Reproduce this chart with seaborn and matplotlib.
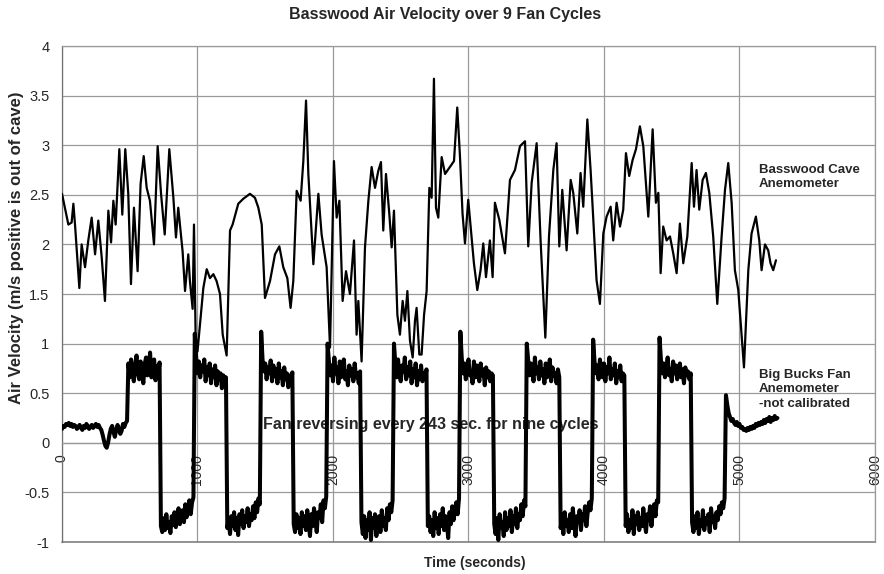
import numpy as np
import pandas as pd
import matplotlib
matplotlib.use("Agg")
import matplotlib.pyplot as plt
import seaborn as sns

# ---------------- data ----------------
title = "Basswood Air Velocity over 9 Fan Cycles"
x_label = "Time (seconds)"
y_label = "Air Velocity (m/s positive is out of cave)"
xtick_values = [0, 1000, 2000, 3000, 4000, 5000, 6000]
xtick_labels = ["0", "1000", "2000", "3000", "4000", "5000", "6000"]
ytick_values = [-1, -0.5, 0, 0.5, 1, 1.5, 2, 2.5, 3, 3.5, 4]
ytick_labels = ["-1", "-0.5", "0", "0.5", "1", "1.5", "2", "2.5", "3", "3.5", "4"]

cave_label = "Basswood Cave\nAnemometer"
fan_label = "Big Bucks Fan\nAnemometer\n-not calibrated"
note_label = "Fan reversing every 243 sec. for nine cycles"

# Basswood Cave anemometer (time s, velocity m/s)
cave_time = [0, 47, 71, 84, 96, 128, 145, 170, 194, 219,
             244, 268, 293, 317, 342, 362, 379, 396, 423, 445,
             467, 489, 509, 531, 558, 580, 603, 625, 649, 679,
             706, 731, 758, 792, 822, 841, 858, 890, 908, 932,
             944, 964, 974, 986, 1000, 1043, 1068, 1092, 1117, 1141,
             1166, 1186, 1215, 1240, 1259, 1301, 1338, 1387, 1424, 1449,
             1474, 1498, 1535, 1572, 1604, 1633, 1663, 1687, 1707, 1732,
             1761, 1781, 1801, 1818, 1855, 1892, 1916, 1953, 1978, 2007,
             2027, 2047, 2071, 2096, 2125, 2155, 2174, 2187, 2211, 2236,
             2261, 2285, 2310, 2334, 2354, 2371, 2391, 2416, 2433, 2450,
             2475, 2494, 2514, 2531, 2549, 2568, 2588, 2605, 2617, 2637,
             2654, 2672, 2691, 2711, 2728, 2745, 2760, 2777, 2802, 2827,
             2863, 2893, 2917, 2937, 2956, 2974, 2998, 3016, 3040, 3065,
             3089, 3109, 3129, 3158, 3178, 3195, 3227, 3269, 3306, 3343,
             3380, 3417, 3441, 3466, 3503, 3532, 3567, 3594, 3626, 3650,
             3670, 3692, 3724, 3754, 3773, 3803, 3827, 3847, 3877, 3901,
             3916, 3945, 3970, 3995, 4019, 4049, 4068, 4093, 4118, 4142,
             4162, 4186, 4211, 4236, 4265, 4290, 4327, 4359, 4383, 4401,
             4418, 4437, 4462, 4487, 4511, 4536, 4560, 4585, 4615, 4647,
             4664, 4683, 4703, 4728, 4752, 4777, 4806, 4836, 4868, 4893,
             4917, 4942, 4966, 4991, 5033, 5065, 5089, 5121, 5146, 5163,
             5188, 5212, 5229, 5249, 5269]
cave_vel = [2.51, 2.20, 2.22, 2.41, 2.20, 1.56, 2.00, 1.77, 2.04, 2.27,
            1.90, 2.24, 1.87, 1.43, 2.34, 2.02, 2.44, 2.20, 2.96, 2.30,
            2.96, 2.51, 1.60, 2.37, 1.73, 2.61, 2.89, 2.57, 2.44, 2.00,
            2.99, 2.51, 2.10, 2.96, 2.47, 2.07, 2.37, 1.93, 1.53, 1.90,
            1.63, 1.35, 2.20, 1.09, 0.92, 1.56, 1.75, 1.66, 1.70, 1.63,
            1.50, 1.09, 0.88, 2.14, 2.20, 2.41, 2.46, 2.51, 2.47, 2.37,
            2.20, 1.46, 1.63, 1.90, 1.98, 1.77, 1.66, 1.36, 1.63, 2.54,
            2.44, 2.84, 3.45, 2.71, 1.80, 2.51, 2.10, 1.77, 0.96, 2.84,
            2.27, 2.44, 1.43, 1.73, 1.50, 2.04, 1.09, 1.43, 0.82, 1.97,
            2.44, 2.78, 2.57, 2.74, 2.83, 2.14, 2.71, 2.30, 1.97, 2.34,
            1.29, 1.09, 1.43, 1.23, 1.53, 1.03, 0.86, 1.23, 1.36, 0.89,
            0.89, 1.29, 1.53, 2.57, 2.47, 3.67, 2.37, 2.27, 2.88, 2.71,
            2.78, 2.84, 3.38, 2.89, 2.31, 2.01, 2.45, 2.18, 1.81, 1.54,
            1.74, 2.01, 1.67, 2.04, 1.67, 2.42, 2.25, 1.91, 2.65, 2.75,
            2.99, 3.04, 1.98, 2.62, 3.02, 2.04, 1.06, 2.08, 2.75, 3.02,
            1.98, 2.55, 1.94, 2.65, 2.52, 2.11, 2.72, 2.38, 3.26, 2.75,
            2.38, 1.64, 1.40, 2.11, 2.28, 2.38, 2.04, 2.42, 2.18, 2.35,
            2.92, 2.69, 2.85, 2.96, 3.19, 2.99, 2.28, 3.16, 2.42, 2.52,
            1.71, 2.18, 2.04, 2.08, 1.91, 1.71, 2.21, 1.81, 2.08, 2.82,
            2.38, 2.75, 2.35, 2.65, 2.72, 2.52, 2.08, 1.40, 2.08, 2.55,
            2.82, 2.42, 1.74, 1.54, 0.76, 1.74, 2.11, 2.28, 2.04, 1.74,
            2.00, 1.94, 1.81, 1.74, 1.84]

# Big Bucks fan anemometer, sampled every 10 s; each block starts at the given time
fan_step = 10
fan_baseline_start = 0
fan_baseline = [0.14, 0.17, 0.16, 0.19, 0.18, 0.20, 0.17, 0.19, 0.16, 0.18,
                0.17, 0.14, 0.16, 0.18, 0.15, 0.13, 0.17, 0.15, 0.19, 0.17,
                0.14, 0.16, 0.18, 0.15, 0.17, 0.19, 0.16, 0.18, 0.15, 0.13,
                0.08, 0.02, -0.03, -0.05, 0.00, 0.08, 0.14, 0.17, 0.11, 0.06,
                0.13, 0.18, 0.14, 0.09, 0.12, 0.19, 0.16, 0.20, 0.22]
fan_high_starts = [490, 980, 1470, 1960, 2450, 2940, 3430, 3920, 4410]
fan_low_starts = [730, 1220, 1710, 2210, 2700, 3190, 3680, 4160, 4650]
fan_high_1 = [0.80, 0.66, 0.84, 0.72, 0.62, 0.78, 0.88, 0.70, 0.64, 0.82, 0.74, 0.60,
              0.79, 0.86, 0.68, 0.75, 0.91, 0.66, 0.72, 0.84, 0.63, 0.77, 0.70, 0.81]
fan_low_1 = [-0.84, -0.90, -0.76, -0.88, -0.72, -0.86, -0.80, -0.91, -0.74, -0.83, -0.70, -0.85,
             -0.78, -0.66, -0.82, -0.73, -0.68, -0.80, -0.62, -0.75, -0.66, -0.58, -0.72, -0.60, -0.55]
fan_high_2 = [1.10, 0.86, 0.70, 0.82, 0.66, 0.78, 0.72, 0.84, 0.62, 0.76, 0.68, 0.80,
              0.60, 0.74, 0.66, 0.78, 0.58, 0.72, 0.64, 0.70, 0.55, 0.68, 0.62, 0.66]
fan_low_2 = [-0.86, -0.78, -0.92, -0.74, -0.84, -0.70, -0.88, -0.76, -0.93, -0.72, -0.82, -0.68,
             -0.86, -0.74, -0.80, -0.66, -0.84, -0.72, -0.78, -0.64, -0.76, -0.60, -0.70, -0.56, -0.62]
fan_high_3 = [1.12, 0.84, 0.72, 0.80, 0.64, 0.76, 0.70, 0.83, 0.62, 0.78, 0.67, 0.74,
              0.60, 0.80, 0.66, 0.72, 0.58, 0.76, 0.64, 0.70, 0.56, 0.68, 0.62, 0.71]
fan_low_3 = [-0.82, -0.90, -0.72, -0.86, -0.76, -0.92, -0.70, -0.84, -0.74, -0.88, -0.68, -0.80,
             -0.94, -0.72, -0.84, -0.66, -0.78, -0.90, -0.70, -0.76, -0.62, -0.80, -0.58, -0.66, -0.54]
fan_high_4 = [1.00, 0.82, 0.68, 0.78, 0.62, 0.86, 0.70, 0.76, 0.60, 0.82, 0.66, 0.74,
              0.84, 0.64, 0.72, 0.58, 0.78, 0.68, 0.74, 0.62, 0.80, 0.66, 0.70, 0.60, 0.72]
fan_low_4 = [-0.80, -0.92, -0.74, -0.96, -0.78, -0.88, -0.70, -0.98, -0.76, -0.86, -0.72, -0.94,
             -0.80, -0.74, -0.90, -0.68, -0.84, -0.76, -0.88, -0.66, -0.78, -0.62, -0.70, -0.58]
fan_high_5 = [1.00, 0.80, 0.66, 0.84, 0.70, 0.62, 0.78, 0.72, 0.86, 0.64, 0.76, 0.68,
              0.82, 0.60, 0.74, 0.66, 0.80, 0.58, 0.72, 0.64, 0.78, 0.62, 0.70, 0.66, 0.74]
fan_low_5 = [-0.84, -0.74, -0.90, -0.78, -0.94, -0.70, -0.86, -0.76, -0.92, -0.72, -0.84, -0.66,
             -0.88, -0.74, -0.80, -0.96, -0.70, -0.82, -0.64, -0.78, -0.68, -0.60, -0.72, -0.56]
fan_high_6 = [1.12, 0.86, 0.70, 0.80, 0.64, 0.76, 0.84, 0.68, 0.72, 0.60, 0.82, 0.66,
              0.78, 0.70, 0.62, 0.80, 0.68, 0.74, 0.58, 0.76, 0.66, 0.72, 0.62, 0.70, 0.68]
fan_low_6 = [-0.82, -0.92, -0.76, -0.98, -0.72, -0.86, -0.80, -0.94, -0.70, -0.88, -0.76, -0.84,
             -0.68, -0.90, -0.74, -0.82, -0.66, -0.86, -0.72, -0.78, -0.62, -0.74, -0.58, -0.64]
fan_high_7 = [1.00, 0.84, 0.68, 0.80, 0.72, 0.62, 0.86, 0.70, 0.76, 0.64, 0.82, 0.68,
              0.74, 0.60, 0.80, 0.66, 0.72, 0.84, 0.62, 0.76, 0.68, 0.70, 0.60, 0.74, 0.66]
fan_low_7 = [-0.86, -0.76, -0.92, -0.70, -0.84, -0.78, -0.90, -0.72, -0.86, -0.66, -0.82, -0.94,
             -0.74, -0.80, -0.68, -0.88, -0.72, -0.78, -0.64, -0.84, -0.70, -0.60, -0.68, -0.56]
fan_high_8 = [1.04, 0.82, 0.70, 0.78, 0.64, 0.84, 0.72, 0.66, 0.80, 0.62, 0.76, 0.70,
              0.86, 0.64, 0.74, 0.68, 0.80, 0.60, 0.72, 0.66, 0.78, 0.62, 0.70, 0.68]
fan_low_8 = [-0.84, -0.72, -0.90, -0.78, -0.86, -0.68, -0.92, -0.74, -0.82, -0.70, -0.88, -0.76,
             -0.84, -0.66, -0.80, -0.90, -0.72, -0.78, -0.64, -0.84, -0.70, -0.62, -0.74, -0.58, -0.60]
fan_high_9 = [1.06, 0.84, 0.70, 0.80, 0.66, 0.76, 0.86, 0.68, 0.74, 0.62, 0.82, 0.70,
              0.78, 0.64, 0.72, 0.80, 0.66, 0.74, 0.60, 0.76, 0.68, 0.72, 0.64, 0.70]
fan_low_9 = [-0.80, -0.90, -0.74, -0.86, -0.70, -0.92, -0.78, -0.84, -0.68, -0.88, -0.76, -0.82,
             -0.72, -0.90, -0.66, -0.80, -0.74, -0.86, -0.70, -0.78, -0.64, -0.72, -0.60, -0.66, -0.56]
fan_tail_start = 4900
fan_tail = [0.48, 0.38, 0.30, 0.26, 0.22, 0.24, 0.20, 0.18, 0.21, 0.17,
            0.19, 0.15, 0.16, 0.13, 0.14, 0.12, 0.15, 0.13, 0.16, 0.14,
            0.17, 0.15, 0.19, 0.17, 0.20, 0.18, 0.21, 0.19, 0.23, 0.20,
            0.24, 0.22, 0.26, 0.21, 0.25, 0.23, 0.27, 0.24, 0.25]

# ---------------- assemble tables ----------------
fan_highs = [fan_high_1, fan_high_2, fan_high_3, fan_high_4, fan_high_5,
             fan_high_6, fan_high_7, fan_high_8, fan_high_9]
fan_lows = [fan_low_1, fan_low_2, fan_low_3, fan_low_4, fan_low_5,
            fan_low_6, fan_low_7, fan_low_8, fan_low_9]
blocks = [(fan_baseline_start, fan_baseline)]
for hs, hv, ls, lv in zip(fan_high_starts, fan_highs, fan_low_starts, fan_lows):
    blocks.append((hs, hv))
    blocks.append((ls, lv))
blocks.append((fan_tail_start, fan_tail))
ft, fv = [], []
for start, vals in blocks:
    ft.extend(start + fan_step * np.arange(len(vals)))
    fv.extend(vals)
fan_df = pd.DataFrame({"time": ft, "velocity": fv})
cave_df = pd.DataFrame({"time": cave_time, "velocity": cave_vel})

# ---------------- plot ----------------
sns.set_style("white")
plt.rcParams["font.family"] = ["Liberation Sans", "DejaVu Sans"]

fig = plt.figure(figsize=(8.84, 5.74), dpi=100)
ax = fig.add_axes([62 / 884, 1 - 542 / 574, (875 - 62) / 884, (542 - 46) / 574])

grid_c = "#9a9a9a"
sns.lineplot(data=cave_df, x="time", y="velocity", ax=ax, color="black",
             lw=1.6, estimator=None, sort=False, zorder=3)
sns.lineplot(data=fan_df, x="time", y="velocity", ax=ax, color="black",
             lw=2.9, estimator=None, sort=False, zorder=3)

ax.set_xlim(0, 6000)
ax.set_ylim(-1, 4)
ax.set_xticks(xtick_values)
ax.set_xticklabels(xtick_labels)
ax.set_yticks(ytick_values)
ax.set_yticklabels(ytick_labels)
ax.grid(True, color=grid_c, lw=0.9)
ax.set_axisbelow(True)
ax.set_xlabel("")
ax.set_ylabel("")

for s in ["top", "right", "left", "bottom"]:
    ax.spines[s].set_color(grid_c)
    ax.spines[s].set_linewidth(0.9)
ax.spines["left"].set_color("#707070")
ax.spines["bottom"].set_position(("data", 0))
ax.axhline(-1, color="#808080", lw=1.2, clip_on=False, zorder=1)
ax.tick_params(axis="both", length=0)
ax.tick_params(axis="x", pad=8, labelrotation=90, labelsize=10)
ax.tick_params(axis="y", pad=9, labelsize=10.5)
for lbl in ax.get_xticklabels():
    lbl.set_rotation(90)
    lbl.set_va("top")
    lbl.set_ha("center")

ax.text(5144, 2.68, cave_label, fontsize=9.5, fontweight="bold",
        ha="left", va="center", linespacing=1.3)
ax.text(5144, 0.54, fan_label, fontsize=9.5, fontweight="bold",
        ha="left", va="center", linespacing=1.3)
ax.text(1483, 0.18, note_label, fontsize=11.5, fontweight="bold",
        ha="left", va="center", zorder=2)

fig.text(445 / 884, 1 - 15 / 574, title, ha="center", va="center",
         fontsize=11.5, fontweight="bold")
fig.text(475 / 884, 1 - 563 / 574, x_label, ha="center", va="center",
         fontsize=10, fontweight="bold")
fig.text(17 / 884, 1 - 248 / 574, y_label, ha="center", va="center",
         rotation=90, fontsize=12, fontweight="bold")

fig.savefig("out.png", dpi=100)
